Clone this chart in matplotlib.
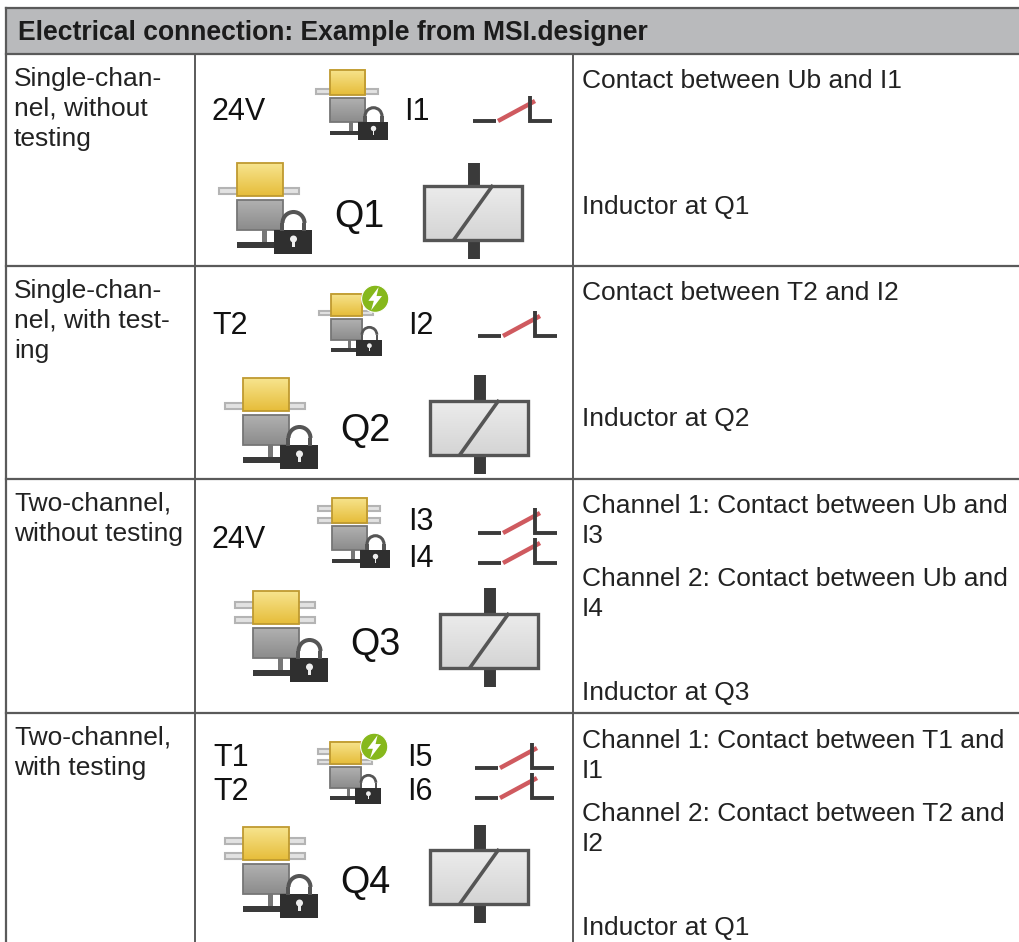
import numpy as np
import matplotlib
matplotlib.use("Agg")
import matplotlib.pyplot as plt
from matplotlib.patches import Rectangle, Circle, Polygon, Arc

plt.rcParams['font.family'] = ['Liberation Sans', 'DejaVu Sans']

title = "Electrical connection: Example from MSI.designer"
row_names = ["Single-chan-\nnel, without\ntesting",
             "Single-chan-\nnel, with test-\ning",
             "Two-channel,\nwithout testing",
             "Two-channel,\nwith testing"]
# right column: text and its top y
row_notes = [[("Contact between Ub and I1", 69), ("Inductor at Q1", 195)],
             [("Contact between T2 and I2", 281), ("Inductor at Q2", 407)],
             [("Channel 1: Contact between Ub and\nI3", 494),
              ("Channel 2: Contact between Ub and\nI4", 567), ("Inductor at Q3", 681)],
             [("Channel 1: Contact between T1 and\nI1", 729),
              ("Channel 2: Contact between T2 and\nI2", 802), ("Inductor at Q1", 916)]]
row_lines = [54, 266, 479, 713]
col_lines = [195, 573]

LINE = "#5a5a5a"
DARK = "#3a3a3a"
FS = 19
LS = 1.31
ICON_FS = 22
BIG_FS = 27.2

fig = plt.figure(figsize=(10.19, 9.42), dpi=100)
ax = fig.add_axes([0, 0, 1, 1])
ax.axis("off")


def grad(x0, y0, x1, y1, c0, c1, z=3):
    g = np.linspace(0, 1, 32)[:, None, None]
    a = np.array(matplotlib.colors.to_rgb(c0))[None, None, :]
    b = np.array(matplotlib.colors.to_rgb(c1))[None, None, :]
    ax.imshow(a * (1 - g) + b * g, extent=(x0, x1, y1, y0), aspect="auto", zorder=z)


def module(x, y, s=1.0, double=False, bolt=False):
    # x, y is the top left corner of the yellow connector
    def R(a, b, w, h, **kw):
        ax.add_patch(Rectangle((x + a * s, y + b * s), w * s, h * s, **kw))
    rails = [11, 26] if double else [25]
    for r in rails:
        R(-18, r, 80, 6, fc="#e2e2e2", ec="#b4b4b4", lw=1.5, zorder=2)
    w = 46
    h = 33
    grad(x, y, x + w * s, y + h * s, "#f7e48e", "#e6bd3a")
    R(0, 0, w, h, fc="none", ec="#bf9a30", lw=1.3, zorder=4)
    grad(x, y + 37 * s, x + w * s, y + 67 * s, "#b0b0b0", "#8c8c8c")
    R(0, 37, w, 30, fc="none", ec="#767676", lw=1.3, zorder=4)
    R(25, 67, 5, 12, fc="#777777", ec="none", zorder=3)
    R(0, 79, 45, 6, fc=DARK, ec="none", zorder=3)
    # lock
    R(37, 67, 38, 24, fc="#2f2f2f", ec="none", zorder=5)
    ax.add_patch(Arc((x + 56.5 * s, y + 60 * s), 22 * s, 22 * s, theta1=180, theta2=360,
                     ec="#555555", lw=2.9 * s, zorder=5))
    R(43.5, 60, 4, 8, fc="#555555", ec="none", zorder=5)
    R(65.5, 60, 4, 8, fc="#555555", ec="none", zorder=5)
    ax.add_patch(Circle((x + 56.5 * s, y + 76 * s), 3.5 * s, fc="#eeeeee", ec="none", zorder=6))
    R(55.3, 77, 2.4, 7, fc="#eeeeee", ec="none", zorder=6)
    if bolt:
        cx, cy = x + 65 * s, y + 7 * s
        ax.add_patch(Circle((cx, cy), 20 * s, fc="#86b81c", ec="white", lw=0.8, zorder=7))
        pts = [(5, -17), (-10, 3), (-2, 3), (-6, 17), (10, -4), (2, -4)]
        ax.add_patch(Polygon([(cx + a * s, cy + b * s) for a, b in pts], fc="white", ec="none", zorder=8))


def switch(x, y):
    # x is the left end of the contact, y the line it sits on
    ax.plot([x, x + 23], [y, y], color=DARK, lw=2.8, solid_capstyle="butt")
    ax.plot([x + 25, x + 62], [y, y - 20], color="#cf5a5f", lw=3.2, solid_capstyle="butt")
    ax.plot([x + 57, x + 57, x + 79], [y - 25, y, y], color=DARK, lw=2.8, solid_joinstyle="miter",
            solid_capstyle="butt")


def relay(x, y, drop=25):
    # x, y is the top of the upper pin at the left edge of the box, drop the pin length
    ax.plot([x + 51, x + 51], [y, y + drop], color=DARK, lw=8.6, solid_capstyle="butt")
    ax.plot([x + 51, x + 51], [y + drop + 56, y + drop + 74], color=DARK, lw=8.6, solid_capstyle="butt")
    grad(x, y + drop, x + 101, y + drop + 56, "#ececec", "#d4d4d4")
    ax.add_patch(Rectangle((x + 1.5, y + drop + 1), 98, 54, fc="none", ec="#555555", lw=2.4, zorder=4))
    ax.plot([x + 30, x + 70], [y + drop + 56, y + drop], color="#555555", lw=2.6, zorder=4, solid_capstyle="butt")


def label(x, y, s, size=ICON_FS):
    ax.text(x, y, s, fontsize=size, color="#111111", va="baseline", ha="left", zorder=9)


# table
ax.add_patch(Rectangle((6, 8), 1013, 46, fc="#b9babc", ec="none", zorder=0))
ax.plot([6, 1019], [8, 8], color=LINE, lw=1.6)
ax.plot([6, 6], [8, 942], color=LINE, lw=1.6)
for yy in row_lines:
    ax.plot([6, 1019], [yy, yy], color=LINE, lw=1.6)
for xx in col_lines:
    ax.plot([xx, xx], [54, 942], color=LINE, lw=1.4)

ax.text(18, 40, title, fontsize=19.1, fontweight="bold", color="#1c1c1c")

name_tops = [67, 279, 492, 726]
for n, t in zip(row_names, name_tops):
    ax.text(14, t, n, fontsize=FS, color="#222222", va="top", linespacing=LS)
for notes in row_notes:
    for s, t in notes:
        ax.text(582, t, s, fontsize=FS, color="#222222", va="top", linespacing=LS)

# row 1
label(212, 120, "24V")
module(330, 70, 0.77)
label(404, 120, "I1")
switch(473, 121)
module(237, 163)
label(334, 227, "Q1", BIG_FS)
relay(423, 163, 22)

# row 2
label(212, 334, "T2")
module(331, 294, 0.68, bolt=True)
label(408, 334, "I2")
switch(478, 336)
module(243, 378)
label(340, 441, "Q2", BIG_FS)
relay(429, 375)

# row 3
label(212, 548, "24V")
module(332, 498, 0.77, double=True)
label(408, 530, "I3")
label(408, 567, "I4")
switch(478, 533)
switch(478, 563)
module(253, 591, double=True)
label(350, 655, "Q3", BIG_FS)
relay(439, 588)

# row 4
label(213, 766, "T1")
label(213, 800, "T2")
module(330, 742, 0.68, double=True, bolt=True)
label(407, 766, "I5")
label(407, 800, "I6")
switch(475, 768)
switch(475, 798)
module(243, 827, double=True)
label(340, 893, "Q4", BIG_FS)
relay(429, 825, 24)

ax.set_xlim(0, 1019)
ax.set_ylim(942, 0)
fig.savefig("out.png", dpi=100)
